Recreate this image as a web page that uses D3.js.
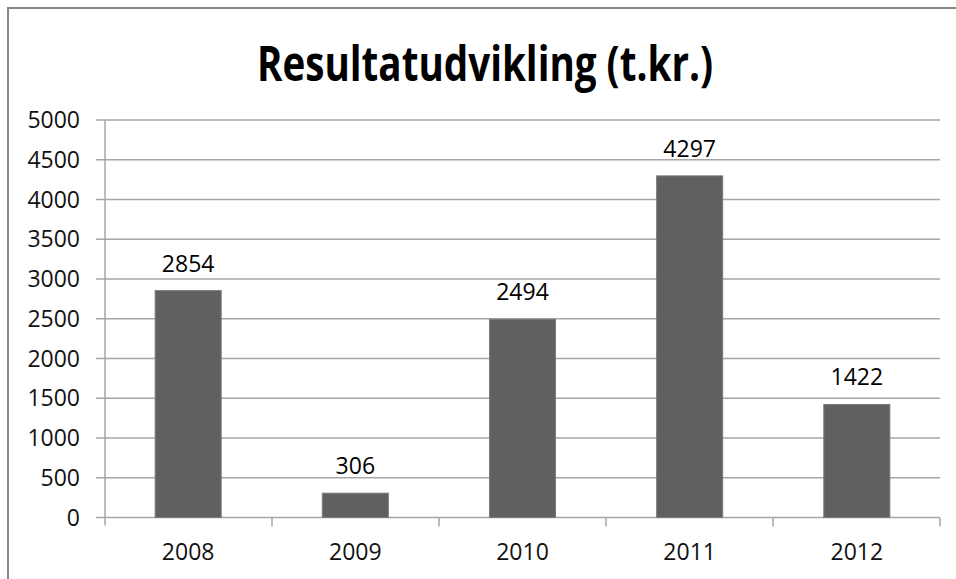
<!DOCTYPE html>
<html>
<head>
<meta charset="utf-8">
<script src="https://cdn.jsdelivr.net/npm/d3@7"></script>
<style>
body { margin: 0; background: #fff; }
text { font-family: "Open Sans", sans-serif; }
</style>
</head>
<body>
<script>
var width = 956;
var height = 579;

var years = ["2008", "2009", "2010", "2011", "2012"];
var results = [2854, 306, 2494, 4297, 1422];
var yTicks = [0, 500, 1000, 1500, 2000, 2500, 3000, 3500, 4000, 4500, 5000];
var title = "Resultatudvikling (t.kr.)";

var margin = {left: 105, right: 16, top: 120, bottom: 61.5};

var svg = d3.select("body").append("svg")
    .attr("width", width)
    .attr("height", height);

// chart frame (right and bottom edges fall outside the picture)
svg.append("rect")
    .attr("x", 8)
    .attr("y", 8)
    .attr("width", 960)
    .attr("height", 600)
    .attr("fill", "none")
    .attr("stroke", "#868686")
    .attr("stroke-width", 2);

var x = d3.scaleBand()
    .domain(years)
    .range([margin.left, width - margin.right])
    .paddingInner(0.605)
    .paddingOuter(0.3);

var y = d3.scaleLinear()
    .domain([0, 5000])
    .range([height - margin.bottom, margin.top]);

// gridlines
svg.append("g")
    .selectAll("line")
    .data(yTicks)
    .enter()
      .append("line")
      .attr("x1", margin.left - 9)
      .attr("x2", width - margin.right)
      .attr("y1", d => y(d))
      .attr("y2", d => y(d))
      .attr("stroke", "#a6a6a6")
      .attr("stroke-width", 1.5);

// y axis line
svg.append("line")
    .attr("x1", margin.left)
    .attr("x2", margin.left)
    .attr("y1", y(5000))
    .attr("y2", y(0) + 8)
    .attr("stroke", "#a6a6a6")
    .attr("stroke-width", 1.5);

// y labels
svg.append("g")
    .selectAll("text")
    .data(yTicks)
    .enter()
      .append("text")
      .attr("x", 80)
      .attr("y", d => y(d) + 8)
      .attr("text-anchor", "end")
      .attr("font-size", 23)
      .attr("fill", "#111")
      .text(d => d);

// category ticks between bands
var catTicks = d3.range(years.length + 1).map(i => margin.left + i * (width - margin.right - margin.left) / years.length);
svg.append("g")
    .selectAll("line")
    .data(catTicks.slice(1))
    .enter()
      .append("line")
      .attr("x1", d => d)
      .attr("x2", d => d)
      .attr("y1", y(0))
      .attr("y2", y(0) + 9)
      .attr("stroke", "#a6a6a6")
      .attr("stroke-width", 1.5);

// bars
svg.append("g")
    .selectAll("rect")
    .data(results)
    .enter()
      .append("rect")
      .attr("x", (d, i) => x(years[i]))
      .attr("y", d => y(d))
      .attr("width", x.bandwidth())
      .attr("height", d => y(0) - y(d))
      .attr("fill", "#606060")
      .attr("stroke", "#7a7a7a")
      .attr("stroke-width", 1);

// value labels
svg.append("g")
    .selectAll("text")
    .data(results)
    .enter()
      .append("text")
      .attr("x", (d, i) => x(years[i]) + x.bandwidth() / 2)
      .attr("y", d => y(d) - 19)
      .attr("text-anchor", "middle")
      .attr("font-size", 23)
      .attr("fill", "#000")
      .text(d => d);

// x labels
svg.append("g")
    .selectAll("text")
    .data(years)
    .enter()
      .append("text")
      .attr("x", d => x(d) + x.bandwidth() / 2)
      .attr("y", 560)
      .attr("text-anchor", "middle")
      .attr("font-size", 23)
      .attr("fill", "#111")
      .text(d => d);

// title
svg.append("text")
    .attr("x", 485)
    .attr("y", 81)
    .attr("text-anchor", "middle")
    .attr("font-size", 49)
    .attr("font-weight", "bold")
    .attr("textLength", 456)
    .attr("lengthAdjust", "spacingAndGlyphs")
    .attr("fill", "#000")
    .text(title);
</script>
</body>
</html>
